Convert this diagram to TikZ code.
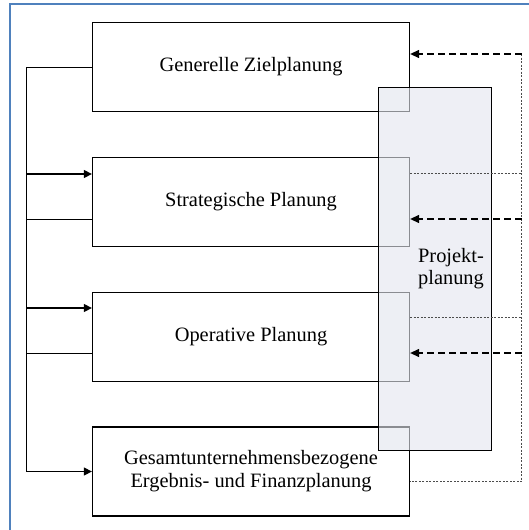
\documentclass[tikz,border=0pt]{standalone}
\usepackage{fontspec}
\setmainfont{Liberation Serif}
\usetikzlibrary{arrows.meta}
\definecolor{frameblue}{RGB}{79,129,189}
\definecolor{projfill}{RGB}{227,229,238}
\tikzset{
  planbox/.style={draw, line width=1.3pt, fill=white, minimum width=317pt,
    minimum height=89pt, align=center, font=\fontsize{20.4}{23}\selectfont},
  projbox/.style={draw, line width=1.3pt, fill=projfill, fill opacity=0.61,
    minimum width=113pt, minimum height=363pt},
  link/.style={line width=1pt},
  flow/.style={line width=1.3pt, -{Triangle[length=8pt,width=8pt]}},
  feedback/.style={line width=1.3pt, dash pattern=on 7pt off 4pt,
    -{Triangle[length=9pt,width=8pt]}},
  report/.style={line width=0.8pt, black!70, dash pattern=on 2pt off 1.5pt}
}
\begin{document}
\begin{tikzpicture}[x=1pt,y=-1pt]
\useasboundingbox (0,0) rectangle (529,530);
\draw[frameblue, line width=1.2pt] (10,530) -- (10,4) -- (529,4); % frame
% planning levels
\node[planbox] (ziel) at (251,67) {Generelle Zielplanung};
\node[planbox] (strat) at (251,202) {Strategische Planung};
\node[planbox] (oper) at (251,337) {Operative Planung};
\node[planbox] (gesamt) at (251,471.5) {Gesamtunternehmensbezogene\\Ergebnis- und Finanzplanung};
\coordinate (ltrunk) at (26.7,0);
\coordinate (rtrunk) at (521.7,0);
% attach points
\coordinate (stratin) at ([yshift=28pt]strat.west);
\coordinate (stratout) at ([yshift=-17pt]strat.west);
\coordinate (operin) at ([yshift=29pt]oper.west);
\coordinate (operout) at ([yshift=-16pt]oper.west);
\coordinate (zielfb) at ([yshift=13pt]ziel.east);
\coordinate (stratfb) at ([yshift=-17pt]strat.east);
\coordinate (stratrep) at ([yshift=29pt]strat.east);
\coordinate (operfb) at ([yshift=-16pt]oper.east);
\coordinate (operrep) at ([yshift=20pt]oper.east);
\coordinate (gesamtrep) at ([yshift=-10pt]gesamt.east);
% left side
\draw[link] (ziel.west) -| (ltrunk |- gesamt.west);
\draw[flow] (ltrunk |- gesamt.west) -- (gesamt.west);
\draw[flow] (ltrunk |- stratin) -- (stratin);
\draw[flow] (ltrunk |- operin) -- (operin);
\draw[link] (stratout) -- (ltrunk |- stratout);
\draw[link] (operout) -- (ltrunk |- operout);
% project planning
\node[projbox] (projekt) at (435,269) {};
\node[align=center, font=\fontsize{20.4}{22}\selectfont] (projtext)
  at ([xshift=16pt]projekt.center) {Projekt-\\planung};
% right side
\draw[report] (rtrunk |- zielfb) -- (rtrunk |- gesamtrep) -- (gesamtrep);
\draw[report] (stratrep) -- (rtrunk |- stratrep);
\draw[report] (operrep) -- (rtrunk |- operrep);
\draw[feedback] (rtrunk |- zielfb) -- (zielfb);
\draw[feedback] (rtrunk |- stratfb) -- (stratfb);
\draw[feedback] (rtrunk |- operfb) -- (operfb);
\end{tikzpicture}
\end{document}
